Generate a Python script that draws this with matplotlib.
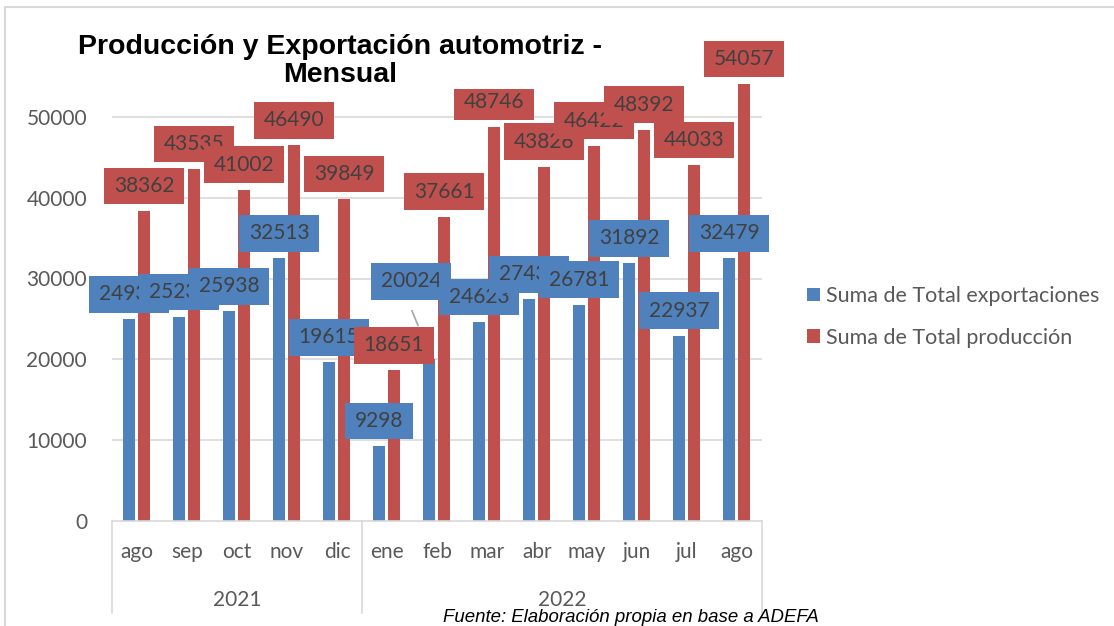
import matplotlib.pyplot as plt
import matplotlib.patches as mpatches
from matplotlib.path import Path
import numpy as np

# Datos
meses = ["ago", "sep", "oct", "nov", "dic", "ene", "feb", "mar", "abr",
         "may", "jun", "jul", "ago"]
anios = ["2021", "2022"]
meses_por_anio = [5, 8]
exportaciones = [24935, 25234, 25938, 32513, 19615, 9298, 20024, 24623,
                 27436, 26781, 31892, 22937, 32479]
produccion = [38362, 43535, 41002, 46490, 39849, 18651, 37661, 48746,
              43826, 46422, 48392, 44033, 54057]

azul = "#4f81bd"
rojo = "#c0504d"
gris_txt = "#595959"
plt.rcParams['font.family'] = ['Lato', 'DejaVu Sans']


def caja(x0, y0, width, height, mutation_size):
    # rectangulo con mas relleno horizontal que vertical
    px = 0.46 * mutation_size
    py = 0.40 * mutation_size
    x0, y0 = x0 - px, y0 - py
    x1, y1 = x0 + width + 2 * px, y0 + height + 2 * py
    return Path([(x0, y0), (x1, y0), (x1, y1), (x0, y1), (x0, y0)],
                closed=True)


fig = plt.figure(figsize=(11.14, 6.26), dpi=100)
# borde del grafico
fig.patches.append(mpatches.Rectangle((5 / 1114, -0.1), 1.2, 1.1 - 7 / 626,
                                      transform=fig.transFigure, fill=False,
                                      edgecolor="#d9d9d9", lw=1.5))

ax = fig.add_axes([112 / 1114, 1 - 521 / 626, 650 / 1114, 485 / 626])
x = np.arange(len(meses))
b1 = ax.bar(x - 0.16, exportaciones, 0.24, color=azul, zorder=2,
            label="Suma de Total exportaciones")
b2 = ax.bar(x + 0.14, produccion, 0.24, color=rojo, zorder=2,
            label="Suma de Total producción")

ax.set_xlim(-0.5, len(meses) - 0.5)
ax.set_ylim(0, 60000)
ax.set_yticks(range(0, 50001, 10000))
for v in range(10000, 50001, 10000):
    ax.axhline(v, color="#d9d9d9", lw=1.2, zorder=1)
ax.tick_params(axis="y", length=0, labelsize=15, labelcolor=gris_txt, pad=18)
ax.set_xticks([])
for s in ["top", "right", "left"]:
    ax.spines[s].set_visible(False)
ax.spines["bottom"].set_color("#d9d9d9")
ax.spines["bottom"].set_linewidth(1.2)

# etiquetas de eje x en dos niveles
tr = ax.get_xaxis_transform()
for i, m in enumerate(meses):
    ax.text(i, -0.064, m, transform=tr, ha="center", va="center",
            fontsize=15, color=gris_txt, clip_on=False)
inicio = -0.5
for a, n in zip(anios, meses_por_anio):
    ax.text(inicio + n / 2, -0.163, a, transform=tr, ha="center",
            va="center", fontsize=15, color=gris_txt, clip_on=False)
    inicio += n
for xs in [-0.5, 4.5, 12.5]:
    ax.plot([xs, xs], [0, -0.19], transform=tr, color="#d9d9d9", lw=1.2,
            clip_on=False)

# etiquetas de datos
z = 5
for serie, xoff, col in [(exportaciones, -0.16, azul), (produccion, 0.14, rojo)]:
    for i, v in enumerate(serie):
        dx, dy = 0, 18
        if serie is exportaciones and i == 6:
            dx, dy = -13, 56
        ax.annotate(str(v), (i + xoff, v), xytext=(dx, dy),
                    textcoords="offset points", ha="center", va="center",
                    fontsize=15, color="#404040", zorder=z,
                    bbox=dict(boxstyle=caja, fc=col, ec="none"))
        z += 1

# linea guia de la etiqueta 20024
ax.plot([5.5, 5.62], [26000, 24200], color="#a6a6a6", lw=1.2, zorder=3,
        clip_on=False)

fig.legend(handles=[b1, b2], loc="center left",
           bbox_to_anchor=(788 / 1114, 1 - 317 / 626), frameon=False,
           fontsize=15.5, labelcolor=gris_txt, handlelength=0.6,
           handleheight=0.6, handletextpad=0.25, labelspacing=1.0)

fig.text(340 / 1114, 1 - 61 / 626,
         "Producción y Exportación automotriz -\nMensual",
         ha="center", va="center", fontsize=20.5, fontweight="bold",
         family="Liberation Sans", linespacing=1.05, zorder=20,
         bbox=dict(fc="white", ec="none", pad=1))
fig.text(631 / 1114, 1 - 617 / 626,
         "Fuente: Elaboración propia en base a ADEFA", ha="center",
         va="center", fontsize=13.4, style="italic", family="Liberation Sans")

fig.savefig("out.png", dpi=100)
